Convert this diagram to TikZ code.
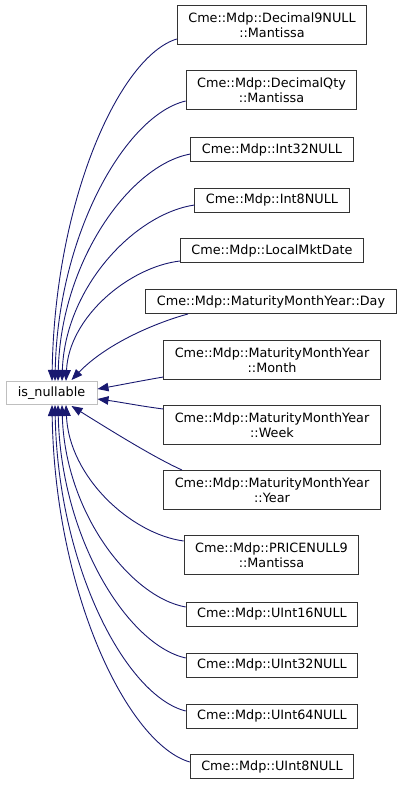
\documentclass[tikz,border=0pt]{standalone}
\usepackage{fontspec}
\setmainfont{DejaVu Sans}
\usepackage{xcolor}
\usepackage{tikz}
\usetikzlibrary{arrows.meta,positioning}

\definecolor{edgeblue}{HTML}{191970}
\definecolor{boxgray}{HTML}{333333}
\definecolor{basegray}{HTML}{BFBFBF}

\begin{document}
\begin{tikzpicture}[
  x=1pt, y=-1pt,
  box/.style={
    rectangle,
    draw=boxgray,
    line width=1pt,
    fill=white,
    inner xsep=11pt,
    inner ysep=0pt,
    minimum height=24pt,
    align=center,
    font=\fontsize{12.8}{15}\selectfont
  },
  twobox/.style={
    box,
    minimum height=39pt
  },
  base/.style={
    box,
    draw=basegray,
    minimum width=91pt,
    minimum height=23pt
  },
  arrow/.style={
    -{Triangle[length=11pt,width=8.5pt]},
    draw=edgeblue,
    line width=0.9pt
  }
]
  \useasboundingbox (0,0) rectangle (403,785);

  % Base class
  \node[base] (isnull) at (51.5,393) {is\_nullable};

  % Derived classes
  \node[twobox] (dec9) at (272,25) {Cme::Mdp::Decimal9NULL\\::Mantissa};
  \node[twobox] (decqty) at (271.5,90) {Cme::Mdp::DecimalQty\\::Mantissa};
  \node[box] (int32) at (272,149.5) {Cme::Mdp::Int32NULL};
  \node[box] (int8) at (272,200) {Cme::Mdp::Int8NULL};
  \node[box] (localmkt) at (272,250.5) {Cme::Mdp::LocalMktDate};
  \node[box] (mmyday) at (271,301.5) {Cme::Mdp::MaturityMonthYear::Day};
  \node[twobox] (mmymonth) at (272,360) {Cme::Mdp::MaturityMonthYear\\::Month};
  \node[twobox] (mmyweek) at (272,425) {Cme::Mdp::MaturityMonthYear\\::Week};
  \node[twobox] (mmyyear) at (272,490) {Cme::Mdp::MaturityMonthYear\\::Year};
  \node[twobox] (price9) at (271.5,555) {Cme::Mdp::PRICENULL9\\::Mantissa};
  \node[box] (uint16) at (272,614) {Cme::Mdp::UInt16NULL};
  \node[box] (uint32) at (272,665) {Cme::Mdp::UInt32NULL};
  \node[box] (uint64) at (272,716) {Cme::Mdp::UInt64NULL};
  \node[box] (uint8) at (272,766.5) {Cme::Mdp::UInt8NULL};

  % Arrows - upper group
  \draw[arrow] ([yshift=-14pt]dec9.west) .. controls (120,56) and (55,199) .. ([xshift=0.5pt]isnull.north);
  \draw[arrow] ([yshift=-11pt]decqty.west) .. controls (126,115) and (58,233) .. ([xshift=3.5pt]isnull.north);
  \draw[arrow] ([yshift=-4.5pt]int32.west) .. controls (130,165) and (61,261) .. ([xshift=6.5pt]isnull.north);
  \draw[arrow] ([yshift=-5pt]int8.west) .. controls (134,214) and (65,288) .. ([xshift=10.5pt]isnull.north);
  \draw[arrow] ([yshift=-10.5pt]localmkt.west) .. controls (129,267) and (69,317) .. ([xshift=14.5pt]isnull.north);
  \draw[arrow] ([xshift=-83pt]mmyday.south) .. controls (165,320) and (110,340) .. ([xshift=20pt,yshift=1pt]isnull.north);

  % Arrows - side
  \draw[arrow] ([yshift=-17pt]mmymonth.west) .. controls (140,381) and (120,385) .. ([yshift=4pt]isnull.east);
  \draw[arrow] ([yshift=16pt]mmyweek.west) .. controls (140,406) and (120,402) .. ([yshift=-6pt]isnull.east);
  \draw[arrow] ([xshift=-90pt]mmyyear.north) .. controls (155,458) and (110,430) .. ([xshift=20pt,yshift=-1pt]isnull.south);

  % Arrows - lower group
  \draw[arrow] ([yshift=14pt]price9.west) .. controls (131,534) and (69,477) .. ([xshift=14.5pt]isnull.south);
  \draw[arrow] ([yshift=7pt]uint16.west) .. controls (130,597) and (65,512) .. ([xshift=10.5pt]isnull.south);
  \draw[arrow] ([yshift=7pt]uint32.west) .. controls (128,645) and (61,539) .. ([xshift=6.5pt]isnull.south);
  \draw[arrow] ([yshift=5pt]uint64.west) .. controls (126,696) and (58,567) .. ([xshift=3.5pt]isnull.south);
  \draw[arrow] ([yshift=4.5pt]uint8.west) .. controls (128,744) and (55,594) .. ([xshift=0.5pt]isnull.south);

\end{tikzpicture}
\end{document}
